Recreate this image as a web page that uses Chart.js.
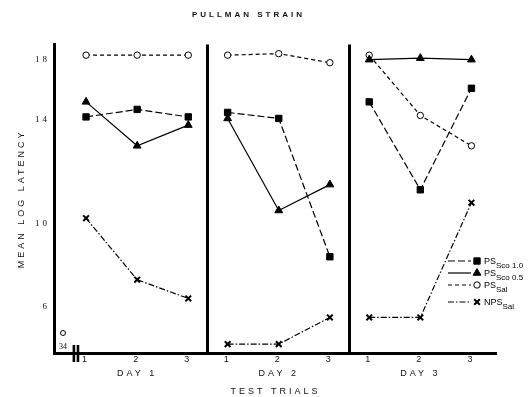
<!DOCTYPE html>
<html>
<head>
<meta charset="utf-8">
<script src="https://cdn.jsdelivr.net/npm/chart.js@4.4.1/dist/chart.umd.min.js"></script>
<style>
  html, body { margin: 0; padding: 0; background: #fff; }
  #wrap { width: 529px; height: 397px; }
</style>
</head>
<body>
<div id="wrap"><canvas id="chart"></canvas></div>
<script>
var days = ['DAY 1', 'DAY 2', 'DAY 3'];
var trials = [1, 2, 3];
var yTicks = [6, 10, 14, 18];

// mean log latency: day 1 trials 1-3, day 2 trials 1-3, day 3 trials 1-3
var psSco10 = [14.2, 14.7, 14.2, 14.5, 14.1, 8.4, 15.2, 11.3, 16.1];
var psSco05 = [15.2, 13.0, 13.8, 14.1, 10.5, 11.5, 18.0, 18.1, 18.0];
var psSal   = [18.3, 18.3, 18.3, 18.3, 18.4, 17.8, 18.3, 14.3, 13.0];
var npsSal  = [10.2, 7.3, 6.4, 3.9, 3.9, 5.4, 5.4, 5.4, 10.8];

var seriesMain = ['PS', 'PS', 'PS', 'NPS'];
var seriesSub  = ['Sco 1.0', 'Sco 0.5', 'Sal', 'Sal'];

// x layout: three panels, trials 1 unit apart, panels a bit further apart
var DAY_STRIDE = 2.77;
function xOf(d, t) { return d * DAY_STRIDE + t; }
var dividers = [];
for (let d = 0; d < days.length - 1; d++) dividers.push(xOf(d, 3) + (DAY_STRIDE - 2) / 2);
var trialTicks = [];
days.forEach(function(day, d) { trials.forEach(function(t) { trialTicks.push(xOf(d, t)); }); });
var xTicks = trialTicks.concat(dividers).sort(function(a, b) { return a - b; });

function series(values) {
  var pts = [];
  days.forEach(function(day, d) {
    trials.forEach(function(t, i) { pts.push({x: xOf(d, t), y: values[d * 3 + i]}); });
    if (d < days.length - 1) pts.push({x: dividers[d], y: null});
  });
  return pts;
}

// the original y axis is not evenly spaced, so map it piecewise
var WARP_V = [3.4, 6, 10, 14, 18, 19];
var WARP_F = [0, 46, 129, 232, 292, 307].map(function(v) { return v / 307; });
function warp(v) {
  for (let i = 1; i < WARP_V.length; i++) {
    if (v <= WARP_V[i] || i === WARP_V.length - 1) {
      var k = (v - WARP_V[i - 1]) / (WARP_V[i] - WARP_V[i - 1]);
      return WARP_F[i - 1] + k * (WARP_F[i] - WARP_F[i - 1]);
    }
  }
}
function unwarp(f) {
  for (let i = 1; i < WARP_F.length; i++) {
    if (f <= WARP_F[i] || i === WARP_F.length - 1) {
      var k = (f - WARP_F[i - 1]) / (WARP_F[i] - WARP_F[i - 1]);
      return WARP_V[i - 1] + k * (WARP_V[i] - WARP_V[i - 1]);
    }
  }
}
class WarpScale extends Chart.LinearScale {
  getPixelForValue(value) {
    return this.bottom - warp(value) * (this.bottom - this.top);
  }
  getValueForPixel(pixel) {
    return unwarp((this.bottom - pixel) / (this.bottom - this.top));
  }
}
WarpScale.id = 'warp';
WarpScale.defaults = Chart.LinearScale.defaults;
Chart.register(WarpScale);

Chart.defaults.font.family = "'Liberation Sans', Arial, sans-serif";
Chart.defaults.color = '#111';

var spacing = {
  id: 'spacing',
  beforeUpdate: function(chart) { chart.ctx.letterSpacing = '3px'; },
  beforeDraw: function(chart) { chart.ctx.letterSpacing = '3px'; }
};

var extras = {
  id: 'extras',
  afterDraw: function(chart) {
    var ctx = chart.ctx, xs = chart.scales.x, ys = chart.scales.y;
    ctx.save();
    ctx.letterSpacing = '0px';
    ctx.fillStyle = '#000';
    ctx.strokeStyle = '#000';
    // axis break
    [0.76, 0.84].forEach(function(v) {
      ctx.fillRect(xs.getPixelForValue(v) - 1.2, ys.bottom - 8, 2.6, 17);
    });
    // origin note
    var ox = chart.chartArea.left + 9;
    ctx.lineWidth = 1;
    ctx.beginPath(); ctx.arc(ox, ys.bottom - 20, 2.5, 0, Math.PI * 2); ctx.stroke();
    ctx.font = "8px 'Liberation Serif', serif";
    ctx.textAlign = 'center';
    ctx.fillText('34', ox, ys.bottom - 4);

    // legend
    var rows = [261, 273, 285, 302];
    chart.data.datasets.forEach(function(ds, i) {
      var y = rows[i];
      ctx.lineWidth = 1.2;
      ctx.setLineDash(ds.borderDash || []);
      ctx.beginPath(); ctx.moveTo(448, y); ctx.lineTo(471, y); ctx.stroke();
      ctx.setLineDash([]);
      ctx.fillStyle = ds.pointBackgroundColor;
      ctx.lineWidth = ds.pointBorderWidth;
      Chart.helpers.drawPoint(ctx, {pointStyle: ds.pointStyle, rotation: 0,
        radius: ds.pointRadius, borderWidth: ds.pointBorderWidth}, 477, y);
      ctx.fillStyle = '#000';
      ctx.textAlign = 'left';
      ctx.font = "9px 'Liberation Sans', sans-serif";
      ctx.fillText(seriesMain[i], 484, y + 3);
      var w = ctx.measureText(seriesMain[i]).width;
      ctx.font = "8px 'Liberation Sans', sans-serif";
      ctx.fillText(seriesSub[i], 484 + w, y + 7);
    });
    ctx.restore();
  }
};

function dataset(label, values, style, radius, fill, dash, pbw) {
  return {
    label: label,
    data: series(values),
    borderColor: '#000',
    borderWidth: 1.2,
    borderDash: dash,
    pointStyle: style,
    pointRadius: radius,
    pointBackgroundColor: fill,
    pointBorderColor: '#000',
    pointBorderWidth: pbw,
    spanGaps: false,
    tension: 0
  };
}

new Chart(document.getElementById('chart'), {
  type: 'line',
  data: {
    datasets: [
      dataset('PS Sco 1.0', psSco10, 'rect', 4.5, '#000', [7, 3], 1),
      dataset('PS Sco 0.5', psSco05, 'triangle', 4.5, '#000', [], 1),
      dataset('PS Sal', psSal, 'circle', 3.2, '#fff', [4, 3], 1),
      dataset('NPS Sal', npsSal, 'crossRot', 4, '#000', [6, 2, 1.5, 2], 2)
    ]
  },
  options: {
    responsive: true,
    maintainAspectRatio: false,
    animation: false,
    events: [],
    layout: { padding: { left: 0, right: 32, top: 0, bottom: 0 } },
    plugins: {
      legend: { display: false },
      tooltip: { enabled: false },
      title: {
        display: true,
        text: 'PULLMAN STRAIN',
        font: { size: 8, weight: 'bold' },
        padding: { top: 10, bottom: 25 }
      }
    },
    scales: {
      x: {
        type: 'linear',
        min: 0.373,
        max: 9.04,
        weight: 0,
        afterBuildTicks: function(s) { s.ticks = xTicks.map(function(v) { return {value: v}; }); },
        afterFit: function(s) { s.height = 14; },
        ticks: {
          autoSkip: false,
          maxRotation: 0,
          padding: 1,
          font: { size: 9 },
          callback: function(v) {
            var i = trialTicks.indexOf(v);
            return i < 0 ? '' : String(trials[i % 3]);
          }
        },
        grid: {
          drawTicks: false,
          color: function(c) { return dividers.indexOf(c.tick && c.tick.value) >= 0 ? '#000' : 'rgba(0,0,0,0)'; },
          lineWidth: function(c) { return dividers.indexOf(c.tick && c.tick.value) >= 0 ? 3 : 0; }
        },
        border: { color: '#000', width: 3 }
      },
      xd: {
        type: 'linear',
        position: 'bottom',
        min: 0.373,
        max: 9.04,
        weight: 1,
        afterBuildTicks: function(s) { s.ticks = days.map(function(d, i) { return {value: xOf(i, 2)}; }); },
        afterFit: function(s) { s.height = 30; },
        ticks: {
          autoSkip: false,
          maxRotation: 0,
          padding: 1,
          font: { size: 9 },
          callback: function(v, i) { return days[i]; }
        },
        grid: { display: false, drawTicks: false },
        border: { display: false },
        title: { display: true, text: 'TEST TRIALS', font: { size: 9 }, padding: { top: 0, bottom: 0 } }
      },
      y: {
        type: 'warp',
        min: 3.4,
        max: 19,
        afterBuildTicks: function(s) { s.ticks = yTicks.map(function(v) { return {value: v}; }); },
        afterFit: function(s) { s.width = 54; },
        ticks: { padding: 4, font: { size: 9, family: "'Liberation Serif', serif" } },
        grid: { display: false, drawTicks: false },
        border: { color: '#000', width: 3 },
        title: { display: true, text: 'MEAN LOG LATENCY', font: { size: 9 }, padding: { top: 16, bottom: 0 } }
      }
    }
  },
  plugins: [spacing, extras]
});
</script>
</body>
</html>
